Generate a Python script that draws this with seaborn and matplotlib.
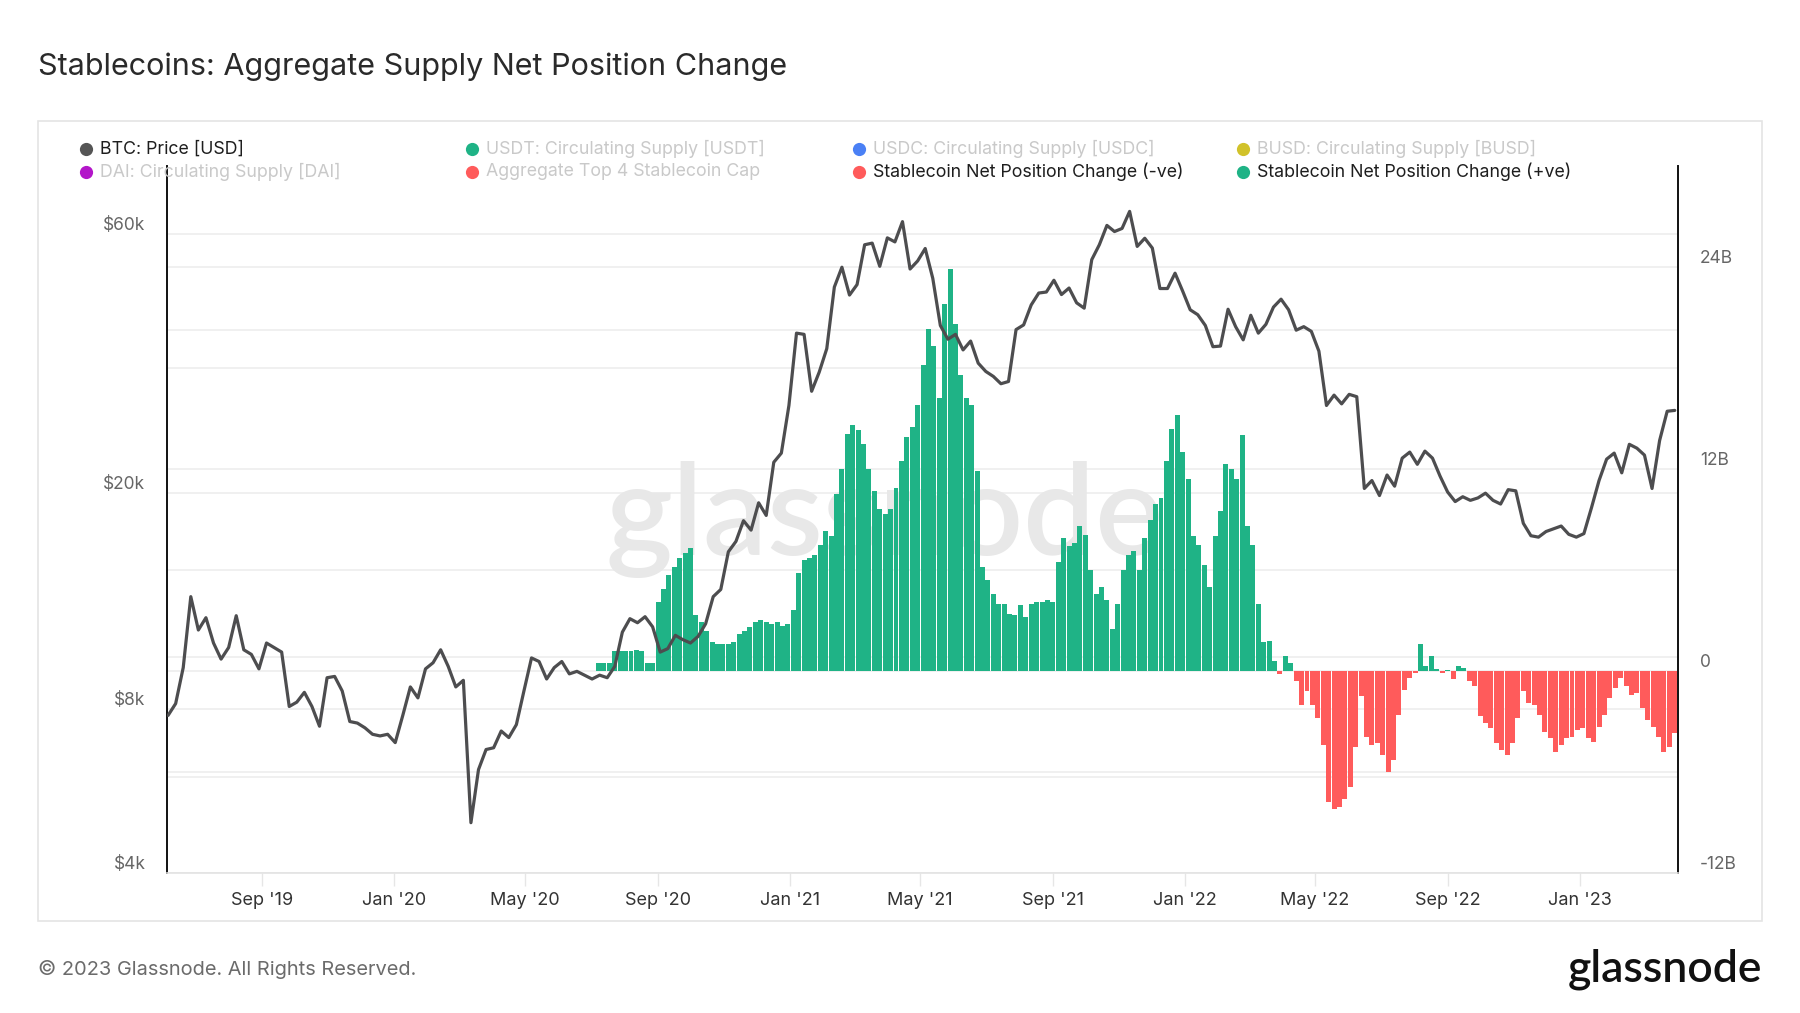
import numpy as np
import pandas as pd
import matplotlib
matplotlib.use("Agg")
import matplotlib.pyplot as plt
import matplotlib.dates as mdates
import matplotlib.transforms as mtransforms
from matplotlib.lines import Line2D
from matplotlib.patches import Rectangle
import seaborn as sns

# ---------------- data ----------------
btc_start = "2019-06-06"          # weekly samples
btc_price = [
    7800, 8200, 9550, 12900, 11200, 11800, 10600, 9900, 10400, 11900,
    10300, 10100, 9500, 10600, 10400, 10200, 8100, 8250, 8600, 8100,
    7450, 9150, 9200, 8650, 7600, 7550, 7400, 7200, 7150, 7200,
    6950, 7800, 8800, 8400, 9500, 9750, 10300, 9600, 8800, 9050,
    4950, 6200, 6750, 6800, 7300, 7100, 7500, 8650, 9950, 9800,
    9100, 9550, 9800, 9300, 9400, 9250, 9100, 9250, 9150, 9600,
    11100, 11750, 11550, 11850, 11350, 10200, 10350, 10950, 10750, 10600,
    10900, 11500, 12900, 13300, 15600, 16300, 17800, 17100, 19200, 18200,
    22800, 23700, 29000, 39400, 39200, 30800, 33400, 36900, 47900, 52100,
    46300, 48400, 57300, 57700, 52300, 59000, 58000, 63200, 51700, 53500,
    56400, 49700, 40700, 38400, 39200, 36700, 38100, 34700, 33500, 32800,
    31800, 32100, 40000, 40800, 44400, 46700, 46900, 49300, 46400, 47700,
    44800, 43800, 53800, 57300, 62200, 60600, 61400, 66000, 56900, 58900,
    56500, 47600, 47600, 50800, 47100, 43500, 42600, 40700, 37200, 37300,
    43600, 40500, 38300, 42500, 39400, 40900, 44000, 45500, 43500, 39900,
    40500, 39700, 36500, 29000, 30300, 29200, 30400, 30100, 20400, 21100,
    19800, 21600, 20600, 23200, 23800, 22600, 23900, 23200, 21500, 20100,
    19300, 19700, 19400, 19600, 20000, 19400, 19100, 20300, 20200, 17600,
    16700, 16600, 17000, 17200, 17400, 16800, 16600, 16850, 18800, 21100,
    23100, 23700, 21800, 24600, 24200, 23500, 20400, 25000, 28300, 28400,
]

net_start = "2020-07-08"          # samples every 5 days, billions USD
net_change_b = [
    0.45, 0.45, 0.5, 1.2, 1.2, 1.2, 1.2, 1.25, 1.2, 0.5,
    0.5, 4.1, 4.9, 5.7, 6.2, 6.7, 7.0, 7.3, 3.3, 2.9,
    2.4, 1.7, 1.6, 1.6, 1.6, 1.7, 2.2, 2.4, 2.6, 2.9,
    3.05, 2.9, 2.8, 2.9, 2.7, 2.8, 3.6, 5.8, 6.6, 6.7,
    6.9, 7.5, 8.3, 8.0, 10.5, 12.0, 14.1, 14.6, 14.3, 13.5,
    12.0, 10.7, 9.6, 9.3, 9.6, 10.9, 12.5, 13.9, 14.5, 15.8,
    18.2, 20.3, 19.3, 16.2, 21.8, 23.9, 20.6, 17.6, 16.2, 15.8,
    11.9, 6.2, 5.4, 4.6, 4.0, 4.0, 3.4, 3.3, 3.9, 3.2,
    4.0, 4.1, 4.1, 4.2, 4.1, 6.5, 7.9, 7.4, 7.6, 8.6,
    8.1, 6.0, 4.6, 5.0, 4.2, 2.5, 4.0, 6.0, 6.9, 7.1,
    6.0, 7.9, 9.0, 9.9, 10.3, 12.5, 14.4, 15.2, 13.0, 11.4,
    8.0, 7.5, 6.3, 5.0, 8.0, 9.5, 12.3, 12.0, 11.4, 14.0,
    8.6, 7.5, 4.0, 1.7, 1.8, 0.6, -0.2, 0.9, 0.5, -0.6,
    -2.0, -1.2, -2.0, -2.8, -4.4, -7.8, -8.2, -8.1, -7.6, -6.9,
    -4.5, -1.5, -3.9, -4.4, -4.3, -5.0, -6.0, -5.3, -2.6, -1.1,
    -0.4, -0.1, 1.6, 0.3, 0.9, 0.1, -0.1, 0.05, -0.5, 0.3,
    0.2, -0.6, -0.9, -2.7, -3.1, -3.4, -4.3, -4.7, -5.0, -4.3,
    -2.8, -1.2, -1.9, -2.0, -2.6, -3.6, -4.0, -4.8, -4.4, -4.0,
    -3.9, -3.5, -3.4, -4.0, -4.2, -3.3, -2.6, -1.6, -1.0, -0.4,
    -0.9, -1.4, -1.3, -2.2, -2.9, -3.3, -3.9, -4.8, -4.5, -3.7,
]

title_text = "Stablecoins: Aggregate Supply Net Position Change"
legend_labels = [
    "BTC: Price [USD]", "USDT: Circulating Supply [USDT]",
    "USDC: Circulating Supply [USDC]", "BUSD: Circulating Supply [BUSD]",
    "DAI: Circulating Supply [DAI]", "Aggregate Top 4 Stablecoin Cap",
    "Stablecoin Net Position Change (-ve)", "Stablecoin Net Position Change (+ve)",
]
legend_active = [True, False, False, False, False, False, True, True]
legend_colors = ["#555555", "#1fb386", "#4a80f5", "#d1c22a",
                 "#b316c9", "#ff5b5b", "#ff5b5b", "#1fb386"]
xtick_dates = ["2019-09-01", "2020-01-01", "2020-05-01", "2020-09-01",
               "2021-01-01", "2021-05-01", "2021-09-01", "2022-01-01",
               "2022-05-01", "2022-09-01", "2023-01-01"]
left_ticks = [4000, 6000, 8000, 10000, 20000, 40000, 60000]
left_labels = ["$4k", "", "$8k", "", "$20k", "", "$60k"]
right_ticks = [-12, -6, 0, 6, 12, 18, 24]
right_labels = ["-12B", "", "0", "", "12B", "", "24B"]
footer_text = "© 2023 Glassnode. All Rights Reserved."
brand_text = "glassnode"

# ---------------- styling ----------------
GREEN = "#1fb386"
RED = "#ff5b5b"
LINE = "#4d4d4f"
GRID = "#ededed"

sns.set_theme(style="white")
plt.rcParams["font.family"] = ["Inter", "DejaVu Sans"]

W, H = 1800, 1013
fig = plt.figure(figsize=(18, 10.13), dpi=100)
fig.patch.set_facecolor("white")


def fx(px):
    return px / W


def fy(py):
    return 1 - py / H


L, R, T, B = 167, 1678, 166, 873
ax = fig.add_axes([fx(L), fy(B), (R - L) / W, (B - T) / H])
ax2 = ax.twinx()

# outer card
fig.add_artist(Rectangle((fx(38), fy(921)), (1762 - 38) / W, (921 - 121) / H,
                         transform=fig.transFigure, fill=False,
                         edgecolor="#e4e4e4", linewidth=1.2, zorder=0))

# ---------------- data frames ----------------
btc_dates = pd.date_range(btc_start, periods=len(btc_price), freq="7D")
df_btc = pd.DataFrame({"t": mdates.date2num(btc_dates), "price": btc_price})
net_dates = pd.date_range(net_start, periods=len(net_change_b), freq="5D")
df_net = pd.DataFrame({"t": mdates.date2num(net_dates), "v": net_change_b})
df_net["sign"] = np.where(df_net["v"] >= 0, "pos", "neg")

# ---------------- bars (right axis) ----------------
ax2.set_ylim(-12, 30)
# left-axis gridlines drawn underneath the bars
blend = mtransforms.blended_transform_factory(ax2.transAxes, ax.transData)
for v in left_ticks:
    ax2.add_line(Line2D([0, 1], [v, v], transform=blend, color=GRID,
                        linewidth=1.2, zorder=0))
for v in right_ticks:
    ax2.axhline(v, color=GRID, linewidth=1.2, zorder=0)

ax2.text(0.475, 0.5, "glassnode", transform=ax2.transAxes, ha="center",
         va="center", fontsize=92, color="#e8e8e8", fontweight="semibold",
         family=["Lato", "DejaVu Sans"], zorder=0.5)

sns.barplot(data=df_net, x="t", y="v", hue="sign",
            palette={"pos": GREEN, "neg": RED}, native_scale=True,
            dodge=False, width=0.92, errorbar=None, saturation=1,
            legend=False, linewidth=0, ax=ax2, zorder=2)

# ---------------- BTC price (left axis, log) ----------------
ax.set_yscale("log")
sns.lineplot(data=df_btc, x="t", y="price", ax=ax, color=LINE,
             linewidth=2.3, estimator=None, zorder=5)
ax.set_ylim(4000, 80000)
ax.set_zorder(ax2.get_zorder() + 1)
ax.patch.set_visible(False)

ax.set_xlim(mdates.date2num(pd.Timestamp("2019-06-05")),
            mdates.date2num(pd.Timestamp("2023-04-02")))

# ---------------- ticks ----------------
ax.yaxis.set_minor_locator(matplotlib.ticker.NullLocator())
ax.set_yticks(left_ticks)
ax.set_yticklabels(left_labels, va="bottom")
ax.tick_params(axis="y", which="both", length=0, pad=15.5, labelsize=12.5,
               labelcolor="#666666", left=False, right=False)

ax2.set_yticks(right_ticks)
ax2.set_yticklabels(right_labels, va="bottom")
ax2.tick_params(axis="y", length=0, pad=16, labelsize=12.5,
                labelcolor="#666666")

xt = mdates.date2num(pd.to_datetime(xtick_dates))
ax.set_xticks(xt)
ax.set_xticklabels([pd.Timestamp(d).strftime("%b '%y") for d in xtick_dates])
ax.tick_params(axis="x", direction="out", length=9, width=1, color="#e6e6e6",
               pad=5, labelsize=13, labelcolor="#333333", bottom=True)

for a in (ax, ax2):
    a.set_xlabel("")
    a.set_ylabel("")
    a.grid(False)

for s in ax2.spines.values():
    s.set_visible(False)
ax.spines["top"].set_visible(False)
ax.spines["left"].set_color("#111111")
ax.spines["left"].set_linewidth(1.4)
ax.spines["right"].set_visible(True)
ax.spines["right"].set_color("#111111")
ax.spines["right"].set_linewidth(1.4)
ax.spines["bottom"].set_color("#e3e3e3")
ax.spines["bottom"].set_linewidth(1.2)

# ---------------- title, legend, footer ----------------
fig.text(fx(38), fy(67), title_text, ha="left", va="center", fontsize=22,
         color="#2a2a2a")

col_x = [86, 472, 859, 1243]
row_y = [149, 172]
for i, (lab, act, col) in enumerate(zip(legend_labels, legend_active,
                                         legend_colors)):
    cx = col_x[i % 4]
    cy = row_y[i // 4]
    fig.add_artist(Line2D([fx(cx)], [fy(cy)], transform=fig.transFigure,
                          marker="o", markersize=9.5, color=col,
                          markeredgewidth=0, linestyle="none", zorder=10))
    fig.text(fx(cx + 14), fy(cy), lab, ha="left", va="center",
             fontsize=12.8, color="#1e1e1e" if act else "#c9c9c9", zorder=10)

fig.text(fx(38), fy(969), footer_text, ha="left", va="center",
         fontsize=14.4, color="#6b6b6b")
fig.text(fx(1762), fy(969), brand_text, ha="right", va="center",
         fontsize=32, color="#111111", fontweight="semibold",
         family=["Lato", "DejaVu Sans"])

fig.savefig("out.png", dpi=100, facecolor="white")
